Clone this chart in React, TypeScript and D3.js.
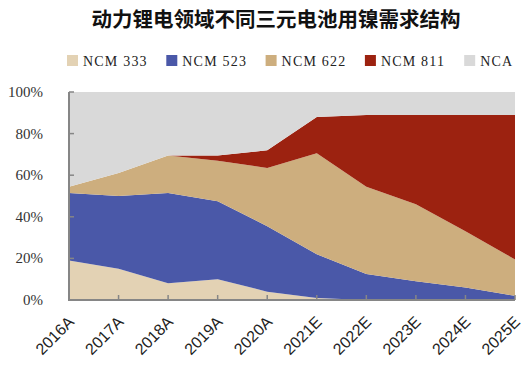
import React from "react";
import * as d3 from "d3";

const years = ["2016A", "2017A", "2018A", "2019A", "2020A", "2021E", "2022E", "2023E", "2024E", "2025E"];
const seriesNames = ["NCM 333", "NCM 523", "NCM 622", "NCM 811", "NCA"];
const ncm333 = [19, 15, 8, 10, 4, 1, 0, 0, 0, 0];
const ncm523 = [32.5, 35, 43.5, 37.5, 31.5, 21, 12.5, 9, 6, 2];
const ncm622 = [3, 11, 18, 19.5, 28, 48.5, 42, 37, 27, 17.5];
const ncm811 = [0, 0, 0, 2.5, 8.5, 17.5, 34.5, 43, 56, 69.5];
const nca = [45.5, 39, 30.5, 30.5, 28, 12, 11, 11, 11, 11];
const yTicks = [0, 20, 40, 60, 80, 100];
const colors = ["#E3D2B4", "#4A58A8", "#CDAE7E", "#9C2210", "#D9D9D9"];
const title = "动力锂电领域不同三元电池用镍需求结构";

export default function App() {
  const W = 523, H = 367;
  const left = 69, right = 515, top = 92, bottom = 300;
  const x = d3.scalePoint<string>().domain(years).range([left, right]);
  const y = d3.scaleLinear().domain([0, 100]).range([bottom, top]);
  const allSeries = [ncm333, ncm523, ncm622, ncm811, nca];
  const table = years.map((yr, i) => {
    const row: any = { year: yr };
    seriesNames.forEach((n, k) => (row[n] = allSeries[k][i]));
    return row;
  });
  const stacked = d3.stack<any>().keys(seriesNames)(table);
  const area = d3
    .area<any>()
    .x((d) => x(d.data.year) as number)
    .y0((d) => y(d[0]))
    .y1((d) => y(d[1]));
  const axisColor = "#868686";
  return (
    <svg width={W} height={H} style={{ position: "absolute", left: 0, top: 0, background: "#fff" }}>
      <text x={276} y={27} textAnchor="middle" fontFamily="'Noto Sans CJK SC'" fontWeight="bold" fontSize={20.5} fill="#111">
        {title}
      </text>
      {seriesNames.map((n, i) => (
        <g key={n} transform={`translate(${67 + i * 99.3},0)`}>
          <rect x={0} y={55} width={11} height={11} fill={colors[i]} />
          <text x={16} y={66} fontFamily="'Liberation Serif'" fontSize={14} letterSpacing={1.2} fill="#222">
            {n}
          </text>
        </g>
      ))}
      {stacked.map((s, i) => (
        <path key={s.key} d={area(s) || ""} fill={colors[i]} />
      ))}
      <line x1={left} y1={top} x2={left} y2={bottom} stroke={axisColor} strokeWidth={2} />
      <line x1={left - 1} y1={bottom} x2={right} y2={bottom} stroke={axisColor} strokeWidth={2} />
      {yTicks.map((t) => (
        <g key={t}>
          <line x1={left} x2={left + 5} y1={y(t)} y2={y(t)} stroke={axisColor} strokeWidth={1.5} />
          <text x={43} y={y(t) + 5} textAnchor="end" fontFamily="'Liberation Serif'" fontSize={15} fill="#333">
            {t + "%"}
          </text>
        </g>
      ))}
      {years.map((yr) => (
        <g key={yr}>
          <line x1={x(yr)} x2={x(yr)} y1={bottom} y2={bottom - 5} stroke={axisColor} strokeWidth={1.5} />
          <text
            transform={`translate(${(x(yr) as number) + 6},${323}) rotate(-45)`}
            textAnchor="end"
            fontFamily="'Liberation Sans'"
            fontSize={16}
            fill="#222"
          >
            {yr}
          </text>
        </g>
      ))}
    </svg>
  );
}
